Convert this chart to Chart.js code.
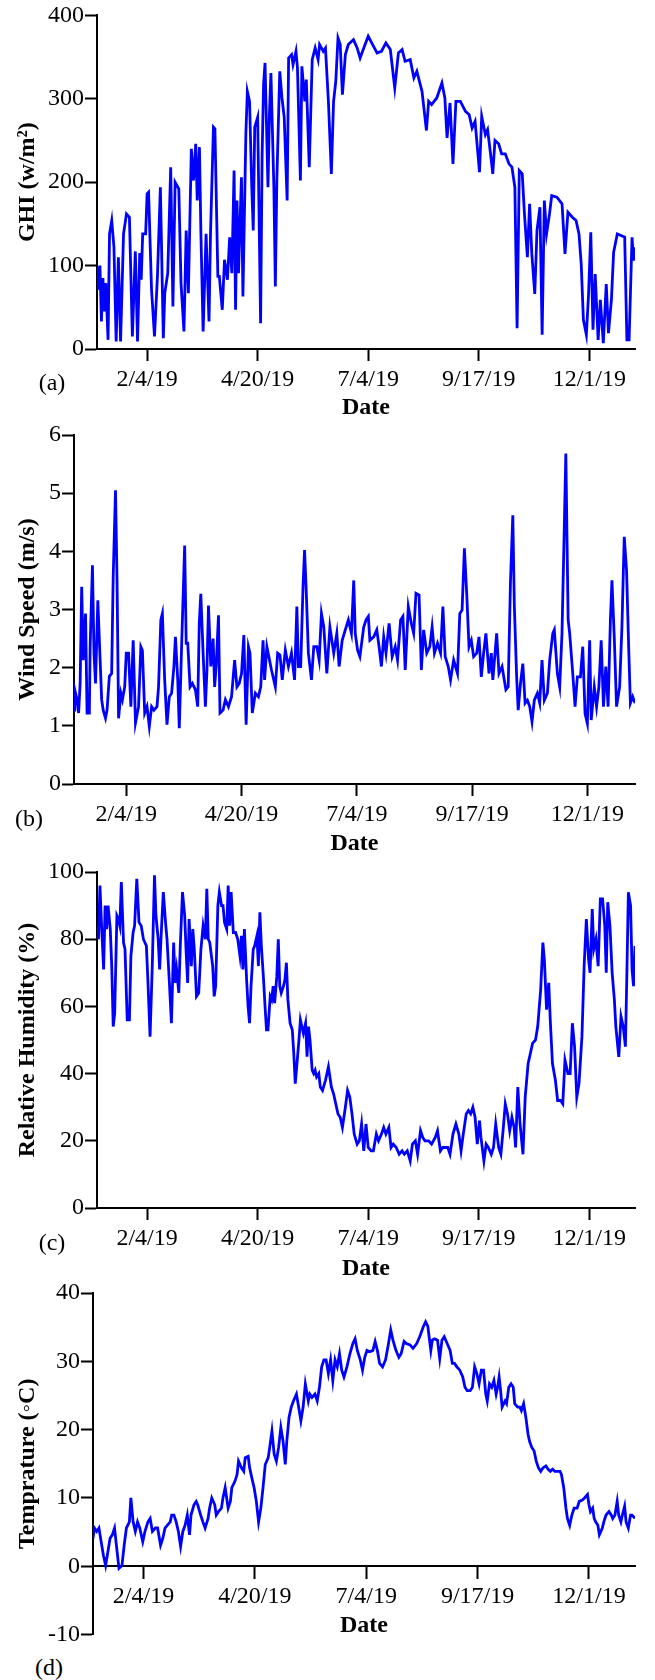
<!DOCTYPE html>
<html>
<head>
<meta charset="utf-8">
<title>Daily weather 2019</title>
<script src="https://cdn.jsdelivr.net/npm/chart.js@4.4.1/dist/chart.umd.min.js"></script>
<style>
  html, body { margin: 0; padding: 0; background: #fff; overflow: hidden; }
  body { width: 655px; height: 1680px; position: relative; }
  canvas { position: absolute; left: 0; }
  .tag { position: absolute; font: 24px 'Liberation Serif', 'Times New Roman', serif; color: #000;
         line-height: 1; transform: translate(-50%, -50%); }
</style>
</head>
<body>
<canvas id="ghi" width="655" height="425" style="top:0px"></canvas>
<canvas id="wind" width="655" height="445" style="top:415px"></canvas>
<canvas id="rh" width="655" height="432" style="top:852px"></canvas>
<canvas id="temp" width="655" height="377" style="top:1273px"></canvas>
<div class="tag" style="left:52px;top:382px">(a)</div>
<div class="tag" style="left:29px;top:818px">(b)</div>
<div class="tag" style="left:52px;top:1242px">(c)</div>
<div class="tag" style="left:49px;top:1667px">(d)</div>

<script>
// x is day of year 2019 (0 = Jan 1)
const tickDays = [34, 109, 184, 259, 334]
const tickLabels = ['2/4/19', '4/20/19', '7/4/19', '9/17/19', '12/1/19']

// [day, GHI w/m2]
const ghi = [[0,99],[1,71],[2,100],[3,33],[4,85],[5,45],[6,79],[7.5,11],[8.5,138],[10,154],[11.5,122],[13,9],[14.5,110],[16,9],[18,138],[20,162],[22,158],[24,15],[26,117],[27.5,9],[29,115],[30,83],[31,138],[33,138],[34,186],[35,188],[37,71],[39,15],[41,87],[43,194],[45,13],[46,67],[48,91],[50,218],[51.5,51],[53,200],[55.5,192],[57,79],[59,21],[60.5,142],[62,67],[64,240],[65.5,202],[67,246],[68,178],[69.5,242],[70.5,138],[72,21],[74,138],[76,33],[77,138],[79,266],[80,264],[82,87],[83,87],[85,47],[86.5,107],[88.5,83],[90,134],[91.5,91],[93,214],[94,47],[95,178],[96,91],[98,206],[99,63],[101,258],[102,309],[103.5,297],[105,194],[106,142],[107,266],[109,278],[111,31],[112,230],[113,317],[114,343],[116,194],[117,282],[118,331],[120,194],[121,75],[122,202],[124,333],[125.5,301],[127,278],[129,178],[130,349],[132,353],[133,341],[135,357],[136,337],[138,202],[139,339],[141,297],[142,323],[144,218],[146,347],[148,361],[150,347],[151,365],[153.5,357],[155,361],[157,297],[159,210],[160.5,297],[162,321],[163.5,373],[165,365],[166.5,305],[168.5,353],[170.5,365],[174,371],[176.5,361],[178.5,349],[181,361],[184,375],[187,365],[190,355],[193,357],[196,367],[199,359],[202,313],[204.5,355],[207,359],[209,345],[212.5,347],[215,325],[217,333],[220.5,309],[223.5,262],[225,297],[227,293],[230.5,301],[234,319],[236,301],[237.5,253],[239.5,295],[241.5,222],[243.5,297],[246.5,297],[250,285],[252.5,281],[254.5,265],[256.5,273],[259.5,212],[261,279],[263.5,257],[265,263],[267,234],[268.5,210],[270,250],[272.5,246],[274.5,234],[277,234],[279.5,222],[281.5,218],[283.5,194],[285,25],[286.5,214],[288.5,210],[290,162],[292,110],[293.5,174],[295,114],[297,66],[298.5,142],[300.5,170],[302,17],[303.5,178],[305,138],[307,162],[308.5,184],[312,182],[315.5,174],[317.5,114],[319.5,164],[322.5,158],[325,154],[327,138],[328.5,102],[330,35],[332,17],[333.5,66],[335,140],[336.5,23],[338,90],[340,11],[341.5,59],[343.5,7],[345.5,78],[347,19],[349,59],[350.5,116],[353,138],[355.5,136],[358,134],[359.5,11],[361,11],[363,134],[364,106],[365,122]]

// [day, wind speed m/s]
const wind = [[0,1.27],[0.5,1.62],[2,1.45],[3,1.22],[4,1.73],[5,3.39],[6,2.13],[7.5,2.93],[8.5,1.22],[10,1.22],[10.5,2.36],[12,3.76],[13,2.25],[14,1.73],[15.5,3.16],[17,2.13],[18,1.45],[19,1.27],[20.5,1.13],[21.5,1.27],[23,1.85],[24.5,1.9],[25.5,3.56],[27,5.05],[28,3.5],[29,1.13],[30.5,1.56],[31.5,1.45],[33,1.67],[34,2.25],[35.5,2.25],[37,1.33],[38.5,2.47],[40,1.05],[42,1.33],[43.5,2.36],[44.5,2.3],[46,1.22],[47.5,1.33],[49,0.99],[50.5,1.33],[52,1.27],[54,1.33],[55,1.67],[56.5,2.82],[57.5,2.93],[59,1.79],[60.5,1.02],[62,1.5],[63.5,1.56],[65,2.02],[66,2.53],[67.5,1.79],[68.5,0.96],[70,2.36],[72,4.1],[73,2.42],[74,2.42],[75.5,1.67],[77,1.73],[79,1.62],[80.5,1.33],[81.5,2.76],[82.5,3.27],[84,2.25],[85.5,1.33],[86.5,1.96],[87.5,3.07],[89,2.02],[90.5,2.5],[91.5,1.67],[92.5,2.02],[94,2.9],[95,1.22],[97,1.27],[98.5,1.45],[100.5,1.33],[102.5,1.5],[104.5,2.13],[106,1.67],[107.5,1.73],[109,1.9],[110.5,2.56],[112,1.02],[113.5,2.36],[114.5,2.25],[116,1.22],[118,1.56],[120,1.5],[121.5,1.67],[123,2.47],[124,1.79],[125.5,2.36],[128.5,1.96],[131,1.67],[132.5,2.25],[134,2.22],[135.5,1.79],[137.5,2.3],[139.5,2.02],[141.5,2.25],[143.5,1.79],[145,3.05],[146,2.02],[147.5,2.02],[149,3.39],[150,4.02],[151,3.39],[152.5,2.25],[154.5,1.79],[156,2.36],[158,2.36],[159.5,2.13],[161,2.93],[162.5,2.7],[164.5,1.9],[166.5,2.7],[169,2.25],[171,2.59],[172.5,2.02],[174.5,2.47],[176.5,2.65],[178.5,2.82],[180.5,2.59],[182,3.5],[183,2.59],[184.5,2.3],[186,2.19],[188.5,2.7],[190,2.82],[191.5,2.88],[192.5,2.47],[195,2.53],[197,2.65],[198.5,2.36],[200,2.02],[201.5,2.53],[203,2.25],[205,2.76],[207,2.19],[209,2.36],[210.5,2.13],[212.5,2.82],[214,2.88],[215.5,1.96],[217.5,3.05],[219.5,2.76],[221,2.59],[222.5,3.28],[224.5,3.25],[226,1.96],[227.5,2.65],[229.5,2.25],[231.5,2.36],[233,2.7],[234.5,2.25],[236.5,2.42],[238.5,2.25],[240,3.05],[241.5,2.19],[243.5,2.02],[245,1.79],[247,2.13],[249.5,1.9],[251,2.93],[252.5,2.99],[254,4.05],[255.5,3.28],[257,2.36],[258.5,2.47],[260,2.19],[262,2.25],[263.5,2.53],[265,1.84],[266.5,2.25],[268,2.59],[270,1.9],[271.5,2.25],[272.5,1.79],[275,2.59],[276.5,1.9],[278.5,2.02],[281,1.62],[282.5,1.67],[284,3.5],[285.5,4.62],[286.5,3.05],[288,1.84],[289,1.27],[290.5,1.73],[292,2.07],[293.5,1.39],[295,1.44],[296.5,1.33],[298,1.07],[299.5,1.44],[301.5,1.56],[303,1.39],[304.5,2.13],[306,1.44],[308,1.56],[309.5,2.13],[311.5,2.59],[312.5,2.65],[314.5,1.9],[316,1.67],[317.5,2.59],[319,4.42],[320,5.68],[321.5,2.82],[322.5,2.59],[324.5,1.9],[326,1.33],[327.5,1.84],[329.5,1.84],[331,2.36],[332.5,1.21],[334,1.04],[335.5,2.47],[336.5,1.1],[338.5,1.67],[340,1.33],[341.5,1.67],[343,2.47],[344.5,1.33],[346,2.02],[347.5,1.33],[349,2.82],[350,3.5],[351.5,2.53],[353,1.33],[355,1.67],[356.5,2.7],[358,4.25],[359.5,3.68],[361,2.25],[362,1.39],[363.5,1.5],[365,1.39]]

// [day, relative humidity %]
const humidity = [[0,84],[1,80],[2,96],[3,85],[4.5,71],[5.5,90],[6.5,83],[7.5,90],[9,83],[10,72],[11,54],[12,58],[13.5,87],[14.5,86],[15.5,84],[16.5,97],[18,79],[19,77],[20.5,56],[22,56],[23,75],[24.5,82],[25.5,84],[27,98],[28.5,85],[30,84],[31.5,80],[33.5,78],[34.5,68],[36,51],[37.5,72],[39,99],[40,87],[41.5,80],[42.5,71],[43.5,81],[45,94],[46.5,85],[47.5,80],[49,68],[50.5,55],[52,79],[53,67],[54,71],[55.5,64],[56.5,78],[58,94],[59.5,87],[60.5,76],[61.5,67],[62.5,86],[64,72],[65,83],[66,77],[67.5,63],[69,64],[70.5,77],[72,84],[73.5,80],[74.5,95],[75.5,80],[76.5,79],[78.5,72],[79.5,63],[80.5,66],[82,90],[83,94],[84.5,90],[85.5,90],[86.5,85],[88,83],[89,96],[90,84],[91,94],[92.5,82],[94,82],[95.5,80],[97,75],[98,81],[99,71],[100,83],[101.5,68],[102.5,60],[103.5,55],[104.5,66],[106,77],[107,78],[108.5,81],[109.5,72],[110.5,88],[111.5,78],[113,68],[114,60],[115,53],[116,53],[117.5,63],[118.5,62],[119.5,66],[120.5,61],[122,69],[123,80],[124,66],[125,64],[126.5,66],[127.5,68],[128.5,73],[129.5,62],[131,55],[132.5,53],[133.5,46],[134.5,37],[135.5,42],[137,50],[138,56],[139,54],[140,52],[141.5,55],[142.5,45],[143.5,54],[144.5,50],[146,41],[147,40],[148,41],[149,39],[150.5,40],[151.5,36],[153,35],[155,38],[157,42],[159,36],[160.5,34],[161.5,32],[163.5,28],[165,27],[166.5,24],[168.5,30],[170,35],[171.5,33],[173,28],[174.5,22],[176.5,19],[178,20],[179.5,25],[181,17],[182.5,25],[184,18],[186,17],[187.5,17],[189.5,22],[191,20],[193,22],[194.5,24],[196,22],[198,24],[199.5,18],[201,19],[203,18],[205,16],[207,17],[208.5,16],[210.5,17],[212.5,14],[214,19],[216,20],[217.5,16],[219.5,23],[221,21],[222.5,20],[225,20],[227,19],[229.5,21],[231,23],[233,17],[234.5,18],[236.5,18],[238,18],[239.5,16],[241.5,22],[243.5,25],[245.5,22],[247,17],[248.5,22],[250.5,28],[252,29],[253.5,28],[255,30],[256.5,27],[258,19],[259.5,26],[260.5,21],[262.5,14],[264,19],[265.5,18],[267.5,16],[269,18],[270.5,25],[272.5,18],[274,16],[275.5,23],[277,31],[278.5,28],[280,23],[281.5,27],[283,24],[284,18],[285.5,36],[287,25],[289,16],[290.5,33],[292.5,43],[294,46],[295.5,49],[297.5,50],[299,54],[301,65],[302.5,79],[303.5,74],[305,59],[306.5,67],[307.5,56],[309,43],[311,38],[312.5,32],[314.5,32],[316,31],[317.5,44],[319.5,40],[321,40],[322.5,55],[324,48],[325.5,33],[327,37],[329,51],[330.5,72],[332,86],[333.5,74],[334.5,70],[336,89],[337,77],[338.5,80],[340,72],[341.5,92],[343,92],[344.5,84],[345.5,70],[346.5,91],[348,84],[349.5,70],[351,62],[352,54],[354,45],[355.5,57],[357,54],[358.5,48],[359.5,70],[360.5,94],[362,90],[363,71],[364,66],[365,78]]

// [day, temperature C]
const temperature = [[0,4.1],[1,5.6],[2.5,5.1],[4,5.6],[5.5,3.6],[7,1.6],[8.5,0.1],[10,2.1],[11.5,4.1],[13,4.6],[14.5,5.6],[16,2.6],[17.5,-0.3],[19.5,0.1],[21,3.1],[22.5,5.6],[24.5,6.5],[25.5,10],[27,6.5],[28.5,5.1],[30,6.5],[31.5,5.6],[33.5,3.6],[35,5.1],[37,6.5],[38.5,7],[40,5.1],[42,5.6],[43.5,5.6],[45.5,3.1],[47,4.1],[48.5,5.6],[50,6],[52,6.5],[53,7.5],[54.5,7.5],[56,6.5],[57.5,5.1],[59,2.9],[60.5,5.1],[62,6],[63.5,7.5],[65,4.6],[66,7.5],[68,9],[69.5,9.5],[70.5,9],[72.5,7.5],[74,6.5],[75.5,5.6],[77.5,7],[78.5,8.5],[80,10],[82,9],[83,7.5],[84.5,8],[86.5,8.5],[87.5,10],[89,11.5],[91,8.5],[92.5,9.5],[93.5,11.5],[95.5,12.4],[97,13.4],[98,15.4],[100,14.4],[101.5,13.9],[102.5,15.9],[104.5,16.1],[105.5,14.4],[107,12.9],[108.5,11.5],[110,9.5],[111.5,6.5],[113,8.5],[114.5,11.5],[116,14.9],[118,15.9],[119,17.4],[120.5,19.8],[122,16.4],[123.5,15.4],[125,17.4],[126.5,20.3],[128,18.3],[129.5,14.9],[130.5,18.3],[132,21.8],[133.5,23.3],[135,24.2],[137,25.2],[138.5,23.3],[140,21.3],[141.5,23.3],[143,26.7],[145,24.2],[146,25.2],[147.5,24.7],[149.5,25.2],[151,24.2],[152.5,26.2],[154,29.2],[155.5,30.2],[157,30.2],[158.5,28.2],[160,30.2],[161.5,27.2],[163,30.2],[164.5,29.2],[166,31.1],[167.5,28.7],[169,27.7],[171,29.2],[173,31.1],[175,32.6],[176.5,33.3],[178,31.6],[180,30.2],[181.5,28.7],[183,30.6],[184.5,31.6],[186.5,31.4],[188.5,31.6],[190,32.9],[191.5,31.6],[193,29.7],[195,29.2],[197,30.2],[199,32.6],[200.5,34.6],[202,33.1],[204,31.6],[206,30.6],[207.5,31.1],[209.5,32.9],[211,32.6],[213.5,32.4],[215.5,31.9],[218,32.6],[220,33.6],[222.5,35.1],[224,35.8],[225.5,35.1],[227.5,31.6],[228.5,33.1],[230,33.3],[232,33.1],[233.5,30.4],[235,33.1],[236.5,33.6],[238.5,32.6],[240.5,31.6],[242,29.7],[243.5,29.7],[245,29.2],[247,28.7],[249,27.7],[250.5,26.2],[252,25.7],[254,25.7],[255.5,26.2],[257,29.2],[258.5,28.2],[260,26.7],[261.5,28.7],[263,28.7],[264.5,25.2],[265.5,24.2],[267,26.7],[268.5,26.2],[270,27.2],[271.5,25.2],[272.5,26.2],[273.5,27.7],[274.5,25.7],[275.5,23.3],[277.5,24.2],[278.5,23.8],[280,26.2],[281.5,26.7],[283,26.2],[284,23.8],[286,23.3],[287.5,23.3],[288.5,22.8],[290,23.8],[291.5,21.8],[293,19.3],[294,18.3],[295.5,17.4],[297,16.9],[298.5,15.4],[300,14.4],[301.5,13.9],[303,14.4],[305,14.7],[306.5,14.2],[308,13.9],[309.5,14.2],[311,13.9],[312.5,13.9],[314.5,13.9],[315.5,13.4],[317,11.5],[318.5,8.5],[319.5,7],[321,6],[322.5,7.5],[324,8.5],[326,8.5],[327.5,9.5],[329.5,9.7],[331,10],[333,10.5],[334,9],[335,8],[336.5,8.5],[337.5,7],[338.5,6.5],[340,6],[341,4.6],[343,5.6],[344,6.5],[345.5,7.5],[347.5,8],[349,7.5],[350,7],[351.5,7.5],[353,9.5],[354,7.5],[355.5,6.5],[356.5,7.5],[358,8.8],[359,6.5],[360.5,5.6],[362,7.5],[363,7.5],[365,7]]

const SERIF = "'Liberation Serif', 'Times New Roman', serif"
const tickFont = { family: SERIF, size: 24 }
const titleFont = { family: SERIF, size: 24, weight: 'bold' }
const axisGrid = { drawOnChartArea: false, tickLength: 12, tickWidth: 2, tickColor: '#000' }
const axisBorder = { color: '#000', width: 2 }

function panel(id, points, o) {
    return new Chart(id, {
        type: 'line',
        data: {
            datasets: [{
                data: points.map(([x, y]) => ({ x, y })),
                borderColor: '#0000ff',
                borderWidth: 2.8,
                pointRadius: 0,
                tension: 0,
            }],
        },
        options: {
            responsive: false,
            animation: false,
            events: [],
            layout: { padding: { top: o.padTop, right: 20, bottom: 0, left: 0 } },
            plugins: { legend: { display: false }, tooltip: { enabled: false } },
            scales: {
                x: {
                    type: 'linear', min: 0, max: 365,
                    position: o.xPos || 'bottom',
                    afterBuildTicks: s => { s.ticks = tickDays.map(value => ({ value })) },
                    afterFit: s => { s.height = 76 },
                    ticks: {
                        callback: v => tickLabels[tickDays.indexOf(v)],
                        font: tickFont, color: '#000', maxRotation: 0, autoSkip: false, padding: 4,
                    },
                    grid: axisGrid,
                    border: axisBorder,
                    title: { display: true, text: 'Date', font: titleFont, color: '#000', padding: { top: 0, bottom: o.datePad } },
                },
                y: {
                    min: o.min, max: o.max,
                    afterFit: s => { s.width = o.axisX },
                    ticks: { stepSize: o.step, font: tickFont, color: '#000', padding: 1 },
                    grid: axisGrid,
                    border: axisBorder,
                    title: { display: true, text: o.title, font: titleFont, color: '#000', padding: { top: 13, bottom: 0 } },
                },
            },
        },
    })
}

panel('ghi', ghi, { title: 'GHI (w/m²)', min: 0, max: 400, step: 100, axisX: 97, padTop: 14, datePad: 3 })
panel('wind', wind, { title: 'Wind Speed (m/s)', min: 0, max: 6, step: 1, axisX: 74, padTop: 20, datePad: 2 })
panel('rh', humidity, { title: 'Relative Humidity (%)', min: 0, max: 100, step: 20, axisX: 97, padTop: 20, datePad: 1 })
panel('temp', temperature, { title: 'Temprature (◦C)', min: -10, max: 40, step: 10, axisX: 93, padTop: 20, datePad: 2, xPos: { y: 0 } })
</script>
</body>
</html>
